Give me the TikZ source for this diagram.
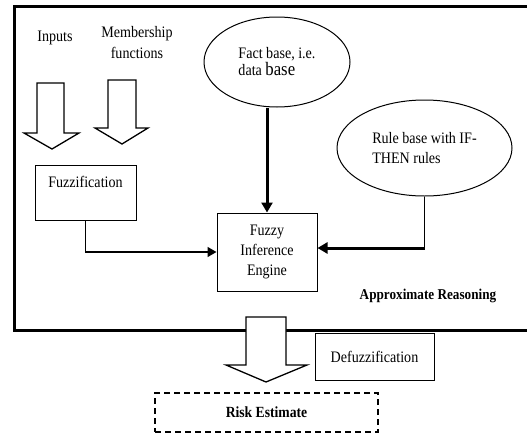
\documentclass[tikz,border=0pt]{standalone}
\usepackage{fontspec}
\setmainfont[FakeStretch=0.88]{Liberation Serif}
\usepackage{tikz}
\usetikzlibrary{arrows.meta,shapes.geometric}

\begin{document}
\begin{tikzpicture}[x=1pt, y=-1pt,
        every node/.style={font=\fontsize{16}{20}\selectfont},
        block/.style={draw, line width=1pt, inner sep=0pt},
        base/.style={draw, ellipse, line width=1pt, inner sep=0pt, align=left},
        hollow/.style={draw, line width=1.3pt, fill=white, line join=miter},
        link/.style={line width=1.4pt, -{Triangle[length=9pt, width=10pt]}},
        boldlink/.style={line width=3pt, -{Triangle[length=10pt, width=11pt]}}]
                \useasboundingbox (0,0) rectangle (527,434);
                \clip (0,0) rectangle (527,434);

                % the reasoning frame, open on the right
                \draw[line width=3pt] (14,6.5) rectangle (560,330);

                \node at (55, 38) {Inputs};
                \node[align=center, font=\fontsize{16}{21}\selectfont] at (137, 43) {Membership\\functions};

                \draw[hollow] (37,83) -- (64,83) -- (64,133) -- (79,133) -- (52,149)
                        -- (24,133) -- (37,133) -- cycle;
                \draw[hollow] (108,80) -- (136,80) -- (136,128) -- (148,128) -- (122,144)
                        -- (95,128) -- (108,128) -- cycle;

                \node[block, minimum width=101pt, text height=22pt, text depth=33pt] (fuzz) at (85.5, 193) {Fuzzification};
                \node[block, minimum width=100pt, minimum height=78pt, align=center] (engine) at (267, 252) {Fuzzy\\Inference\\Engine};

                \node[base, minimum width=146pt, minimum height=90pt, font=\fontsize{16}{17}\selectfont] (fact) at (277, 62)
                        {Fact base, i.e.\\data {\fontsize{19}{17}\selectfont base}};
                \node[base, minimum width=175pt, minimum height=96pt] (rule) at (424.5, 148)
                        {Rule base with IF-\\THEN rules};

                \coordinate (bend) at (rule.south |- 0,248);

                \draw[boldlink] (engine.north |- fact.south) -- (engine.north);
                \draw[link] (fuzz.south) |- (engine.west);
                \draw[line width=1pt] (rule.south) -- (bend);
                \draw[boldlink] (bend) -- (engine.east |- bend);

                \node[font=\bfseries\fontsize{15}{16}\selectfont] (approx) at (428, 296) {Approximate Reasoning};

                % defuzzification arrow crossing the frame
                \draw[hollow] (246,317) -- (286,317) -- (286,365) -- (307,365) -- (266,382)
                        -- (226,365) -- (246,365) -- cycle;

                \node[block, minimum width=119pt, minimum height=47pt] (defuzz) at (374.5, 356.5) {Defuzzification};
                \node[block, dashed, line width=1.6pt, dash pattern=on 6pt off 4pt, minimum width=223pt, minimum height=39pt,
                        font=\bfseries\fontsize{15.5}{16}\selectfont] (risk) at (266.5, 412.5) {Risk Estimate};
            \end{tikzpicture}
\end{document}
